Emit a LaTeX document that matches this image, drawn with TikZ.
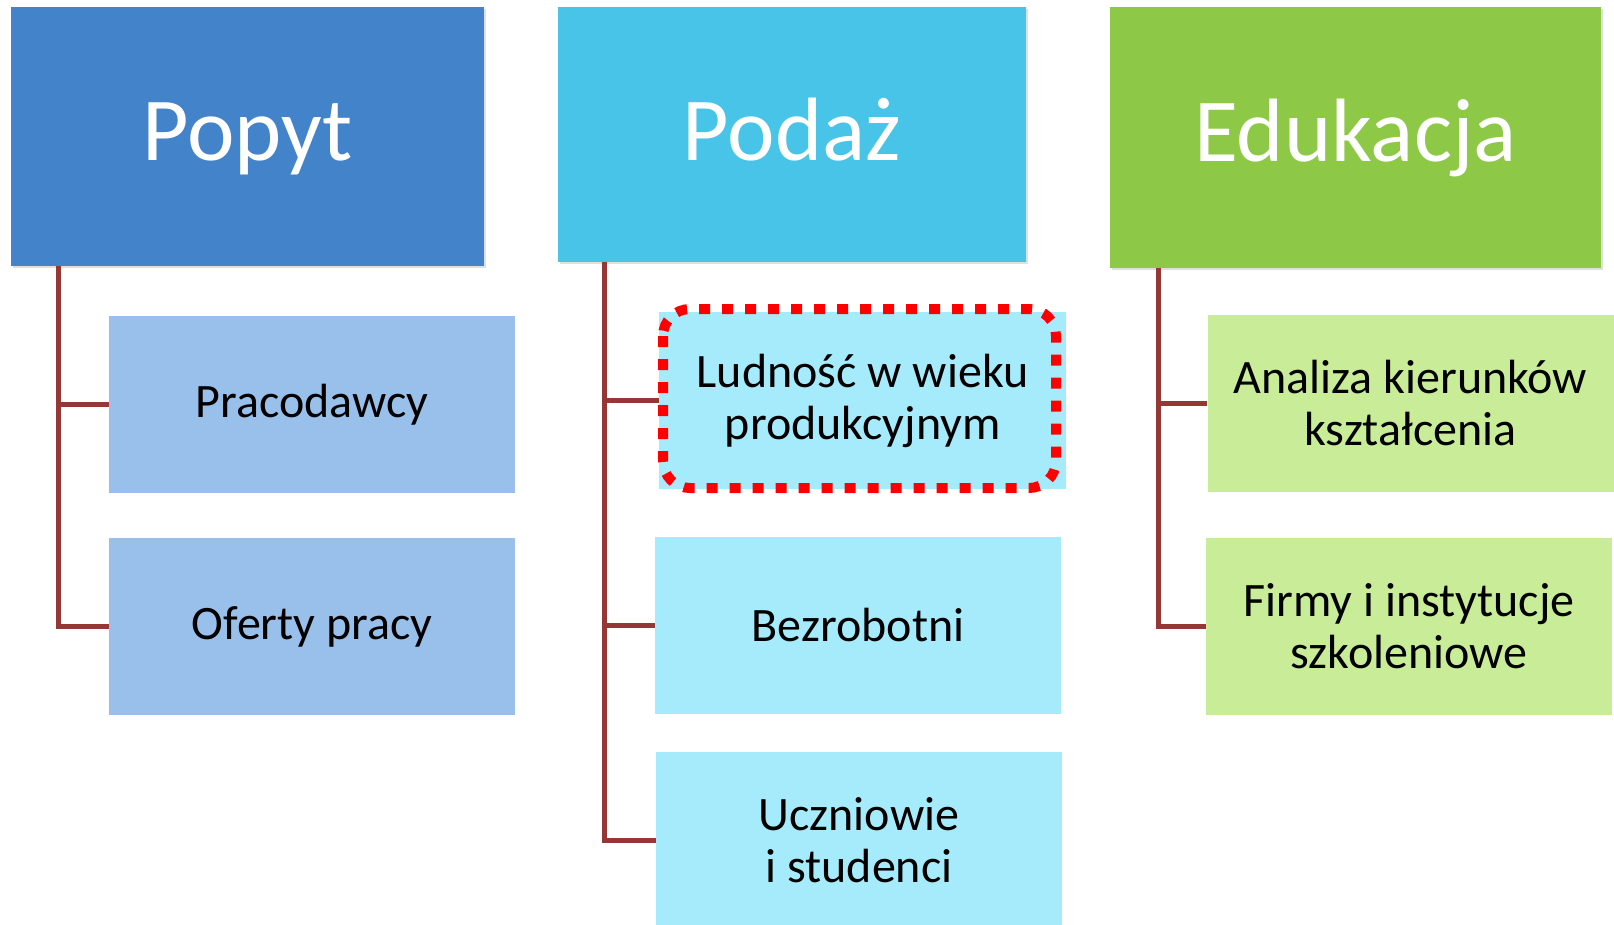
\documentclass[tikz,border=0pt]{standalone}
\usepackage{fontspec}
\setmainfont{Carlito}
\usetikzlibrary{shadows}
\definecolor{cPop}{RGB}{67,131,201}
\definecolor{cPopL}{RGB}{153,192,235}
\definecolor{cPod}{RGB}{71,196,232}
\definecolor{cPodL}{RGB}{166,235,252}
\definecolor{cEdu}{RGB}{141,201,70}
\definecolor{cEduL}{RGB}{200,236,152}
\definecolor{cConn}{RGB}{149,55,53}
\definecolor{cRed}{RGB}{255,0,0}
\tikzset{
  hdr/.style={rectangle, inner sep=0pt, text=white,
    drop shadow={shadow xshift=1.5pt, shadow yshift=-2pt, opacity=0.25}},
  hdrtext/.style={anchor=base, inner sep=0pt, text=white, font=\fontsize{90}{100}\selectfont},
  child/.style={rectangle, inner sep=0pt, minimum width=406pt, minimum height=177pt,
    text=black, align=center, font=\fontsize{48}{52}\selectfont},
  conn/.style={draw=cConn, line width=5pt},
  hilite/.style={draw=cRed, line width=10pt, dash pattern=on 11pt off 12pt, rounded corners=27pt}
}
\begin{document}
\begin{tikzpicture}[x=1pt,y=-1pt]
\useasboundingbox (0,0) rectangle (1614,924);
\clip (0,0) rectangle (1614,924);
% headers
\node[hdr, fill=cPop, minimum width=473pt, minimum height=259pt] (popyt) at (247.5,136.5) {};
\node[hdr, fill=cPod, minimum width=468pt, minimum height=255pt] (podaz) at (792,134.5) {};
\node[hdr, fill=cEdu, minimum width=491pt, minimum height=261pt] (edu) at (1355.5,137.5) {};
\node[hdrtext] (popytT) at (247.5,160) {Popyt};
\node[hdrtext] (podazT) at (792,160) {Podaż};
\node[hdrtext] (eduT) at (1355.5,161) {Edukacja};
% children
\node[child, fill=cPopL] (prac) at (312,404.5) {Pracodawcy};
\node[child, fill=cPopL] (ofer) at (312,626.5) {Oferty pracy};
\node[child, fill=cPodL, minimum width=407pt] (lud) at (659,400.5) [anchor=west] {Ludność w wieku\\produkcyjnym};
\node[child, fill=cPodL] (bezr) at (858,625.5) {Bezrobotni};
\node[child, fill=cPodL] (ucz) at (859,840) {Uczniowie\\i studenci};
\node[child, fill=cEduL] (anal) at (1410.5,403.5) {Analiza kierunków\\kształcenia};
\node[child, fill=cEduL] (firm) at (1409,626.5) {Firmy i instytucje\\szkoleniowe};
% highlight
\draw[hilite] (663,309) rectangle (1056,488);
% connectors
\coordinate (pt1) at ([xshift=48pt]popyt.south west);
\coordinate (pt2) at ([xshift=47pt]podaz.south west);
\coordinate (pt3) at ([xshift=49pt]edu.south west);
\draw[conn] (pt1) |- (prac.west);
\draw[conn] (pt1) |- (ofer.west);
\draw[conn] (pt2) |- (lud.west);
\draw[conn] (pt2) |- (bezr.west);
\draw[conn] (pt2) |- (ucz.west);
\draw[conn] (pt3) |- (anal.west);
\draw[conn] (pt3) |- (firm.west);
\end{tikzpicture}
\end{document}
